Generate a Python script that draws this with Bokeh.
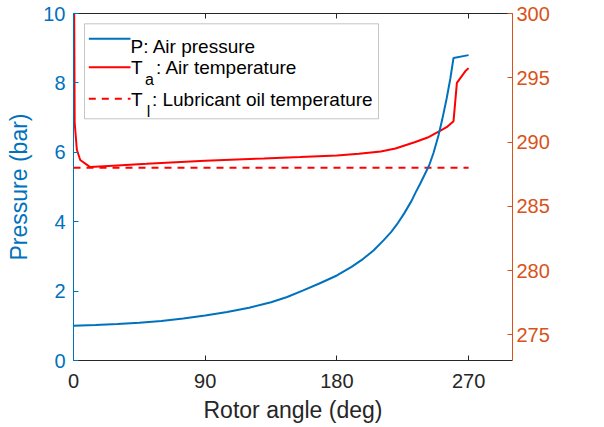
import math
from bokeh.plotting import figure
from bokeh.models import (Range1d, LinearAxis, FixedTicker, Label, BoxAnnotation,
                          Arrow, CustomJSTickFormatter)
from bokeh.embed import file_html
from bokeh.resources import INLINE

# ---- data ----
rotor_angle_p = [0, 15, 30, 45, 60, 75, 90, 105, 120, 135, 146, 157, 168, 180, 190,
                 198, 205, 212, 217, 221, 226, 231, 234, 237, 240, 243, 246, 249.5,
                 252, 255, 257.5, 259.7, 270]
pressure_bar = [1.00, 1.02, 1.05, 1.09, 1.14, 1.21, 1.30, 1.40, 1.52, 1.68, 1.83, 2.02,
                2.22, 2.45, 2.70, 2.93, 3.17, 3.47, 3.70, 3.92, 4.24, 4.60, 4.86, 5.10,
                5.36, 5.62, 5.98, 6.50, 6.95, 7.55, 8.12, 8.72, 8.80]

rotor_angle_t = [0, 0.8, 2.3, 4.6, 11.4, 30, 50, 90, 130, 155, 180, 195, 210, 220,
                 233.6, 242, 249.5, 255, 259.7, 262, 267.7, 270]
air_temp_K = [312, 291.5, 289.4, 288.6, 288.05, 288.18, 288.3, 288.55, 288.72, 288.83,
              288.96, 289.08, 289.27, 289.5, 290.0, 290.35, 290.8, 291.15, 291.62,
              294.6, 295.5, 295.75]

oil_angle = [0, 270]
oil_temp_K = [288, 288]

x_ticks = [0, 90, 180, 270]
p_ticks = [0, 2, 4, 6, 8, 10]
t_ticks = [275, 280, 285, 290, 295, 300]

legend_p = "P: Air pressure"
legend_ta = ("T", "a", ": Air temperature")
legend_tl = ("T", "l", ": Lubricant oil temperature")

BLUE = "#0072BD"
ORANGE = "#D95319"
RED = "#FF0000"
DARK = "#262626"
FONT = "Liberation Sans"

p = figure(width=604, height=427, output_backend="svg", toolbar_location=None,
           x_range=Range1d(0, 300), y_range=Range1d(0, 10),
           min_border_left=73, min_border_right=92, min_border_top=13,
           min_border_bottom=67)
p.extra_y_ranges = {"temp": Range1d(273, 300)}
p.grid.visible = False
p.outline_line_color = None
p.background_fill_color = "white"
p.border_fill_color = "white"

# bottom axis
xa = p.xaxis[0]
xa.ticker = FixedTicker(ticks=x_ticks)
xa.axis_label = "Rotor angle (deg)"
xa.axis_line_color = DARK
xa.major_tick_line_color = DARK
xa.major_tick_in = 5
xa.major_tick_out = 0
xa.minor_tick_line_color = None
xa.major_label_text_font = FONT
xa.major_label_text_font_size = "20px"
xa.major_label_text_color = DARK
xa.major_label_standoff = 13
xa.axis_label_text_font = FONT
xa.axis_label_text_font_size = "23px"
xa.axis_label_text_font_style = "normal"
xa.axis_label_text_color = DARK
xa.axis_label_standoff = 6

# left axis
ya = p.yaxis[0]
ya.ticker = FixedTicker(ticks=p_ticks)
ya.axis_label = "Pressure (bar)"
ya.axis_line_color = BLUE
ya.major_tick_line_color = BLUE
ya.major_tick_in = 5
ya.major_tick_out = 0
ya.minor_tick_line_color = None
ya.major_label_text_font = FONT
ya.major_label_text_font_size = "20px"
ya.major_label_text_color = BLUE
ya.major_label_standoff = 8
ya.axis_label_text_font = FONT
ya.axis_label_text_font_size = "23px"
ya.axis_label_text_font_style = "normal"
ya.axis_label_text_color = BLUE
ya.axis_label_standoff = 8

# top axis (box line with ticks, no labels)
top = LinearAxis(ticker=FixedTicker(ticks=x_ticks),
                 formatter=CustomJSTickFormatter(code="return ''"),
                 axis_line_color=DARK, major_tick_line_color=DARK,
                 major_tick_in=5, major_tick_out=0, minor_tick_line_color=None,
                 major_label_text_font_size="1px", major_label_standoff=0)
p.add_layout(top, "above")

# right axis
ra = LinearAxis(y_range_name="temp", ticker=FixedTicker(ticks=t_ticks),
                axis_line_color=ORANGE, major_tick_line_color=ORANGE,
                major_tick_in=5, major_tick_out=0, minor_tick_line_color=None,
                major_label_text_font=FONT, major_label_text_font_size="20px",
                major_label_text_color=ORANGE, major_label_standoff=4)
p.add_layout(ra, "right")

# data lines
p.line(rotor_angle_t, air_temp_K, y_range_name="temp", line_color=RED, line_width=2)
p.line(oil_angle, oil_temp_K, y_range_name="temp", line_color=RED, line_width=2,
       line_dash="7 6")
p.line(rotor_angle_p, pressure_bar, line_color=BLUE, line_width=2)

# right axis title (reads bottom to top)
p.add_layout(Label(x=510, y=173.5, x_units="screen", y_units="screen",
                   text="Temperature (K)", angle=math.pi / 2, text_align="center",
                   text_baseline="alphabetic", text_font=FONT,
                   text_font_size="23px", text_color=ORANGE))

# legend box
p.add_layout(BoxAnnotation(left=11, right=305, top=336.7, bottom=241.7,
                           left_units="screen", right_units="screen",
                           top_units="screen", bottom_units="screen",
                           fill_color="white", fill_alpha=1.0,
                           line_color="#404040", line_width=1))

# legend samples
for yy, col, dash in [(321.7, BLUE, "solid"), (293.3, RED, "solid"),
                      (261.7, RED, "7 6")]:
    p.add_layout(Arrow(end=None, x_start=15.3, y_start=yy, x_end=57, y_end=yy,
                       start_units="screen", end_units="screen",
                       line_color=col, line_width=2, line_dash=dash))

def lab(x, y, t, size="19px"):
    p.add_layout(Label(x=x, y=y, x_units="screen", y_units="screen", text=t,
                       text_align="left", text_baseline="alphabetic",
                       text_font=FONT, text_font_size=size, text_color="#000000"))

lab(57, 314.5, legend_p)
lab(57.5, 293.5, legend_ta[0])
lab(71.5, 281.5, legend_ta[1], "16px")
lab(82.4, 293.5, legend_ta[2])
lab(57.5, 261, legend_tl[0])
lab(73.2, 249, legend_tl[1], "16px")
lab(78.4, 261, legend_tl[2])

open("out.html", "w").write(file_html(p, INLINE))
